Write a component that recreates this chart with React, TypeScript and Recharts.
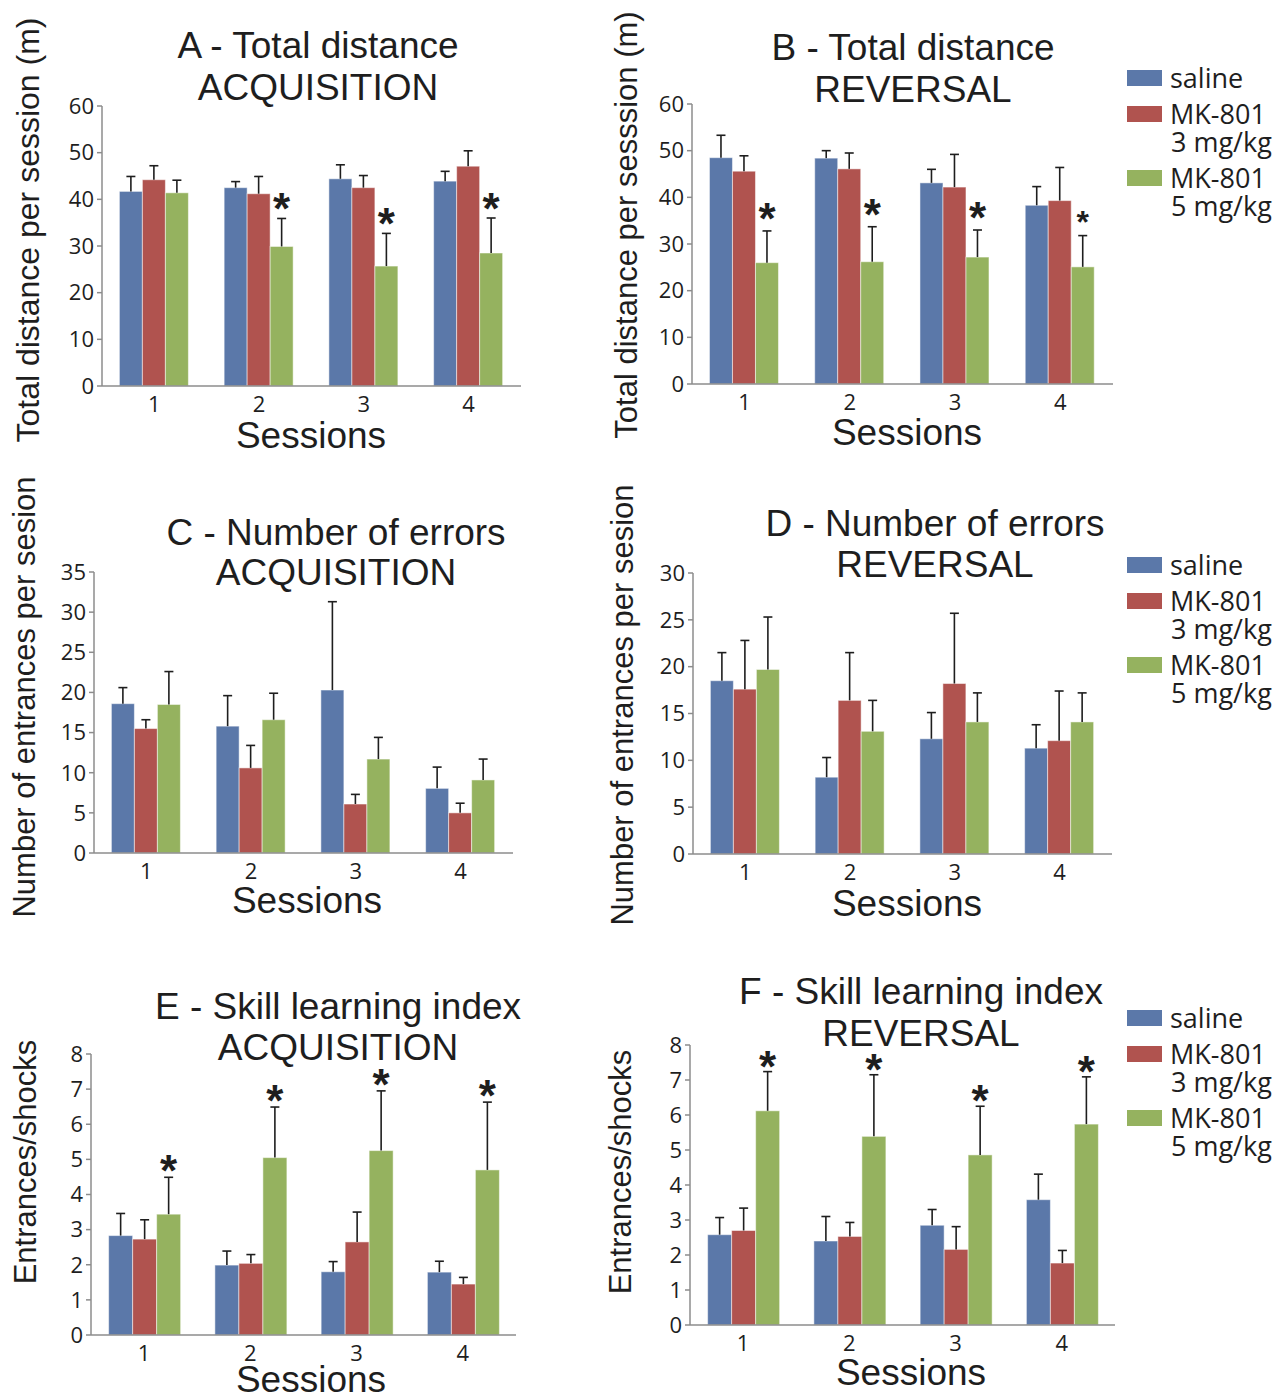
import React from "react";
import { Bar, BarChart, Legend, XAxis, YAxis } from "recharts";

// Sessions on the x axis
const sessions = ["1", "2", "3", "4"];

// legend order of the three groups
const groupNames = ["saline", "MK-801 3 mg/kg", "MK-801 5 mg/kg"];

// A - Total distance, acquisition (mean and top of error bar)
const aSaline = [41.7, 42.5, 44.4, 43.9];
const aSalineErr = [44.9, 43.8, 47.4, 46.0];
const aMk3 = [44.2, 41.2, 42.5, 47.1];
const aMk3Err = [47.2, 44.9, 45.1, 50.4];
const aMk5 = [41.4, 29.9, 25.7, 28.5];
const aMk5Err = [44.1, 35.9, 32.7, 36.0];
const aStars = [false, true, true, true];

// B - Total distance, reversal
const bSaline = [48.5, 48.4, 43.1, 38.3];
const bSalineErr = [53.3, 50.0, 46.0, 42.3];
const bMk3 = [45.6, 46.1, 42.2, 39.3];
const bMk3Err = [48.9, 49.5, 49.2, 46.4];
const bMk5 = [26.0, 26.2, 27.2, 25.1];
const bMk5Err = [32.8, 33.7, 33.0, 31.8];
const bStars = [true, true, true, true];

// C - Number of errors, acquisition
const cSaline = [18.6, 15.8, 20.3, 8.05];
const cSalineErr = [20.6, 19.6, 31.3, 10.7];
const cMk3 = [15.5, 10.6, 6.1, 5.0];
const cMk3Err = [16.6, 13.4, 7.3, 6.2];
const cMk5 = [18.5, 16.6, 11.7, 9.1];
const cMk5Err = [22.6, 19.9, 14.4, 11.7];
const cStars = [false, false, false, false];

// D - Number of errors, reversal
const dSaline = [18.5, 8.2, 12.3, 11.3];
const dSalineErr = [21.5, 10.3, 15.1, 13.8];
const dMk3 = [17.6, 16.4, 18.2, 12.1];
const dMk3Err = [22.8, 21.5, 25.7, 17.4];
const dMk5 = [19.7, 13.1, 14.1, 14.1];
const dMk5Err = [25.3, 16.4, 17.2, 17.2];
const dStars = [false, false, false, false];

// E - Skill learning index, acquisition
const eSaline = [2.83, 1.99, 1.8, 1.79];
const eSalineErr = [3.46, 2.39, 2.09, 2.1];
const eMk3 = [2.73, 2.04, 2.65, 1.45];
const eMk3Err = [3.28, 2.29, 3.5, 1.64];
const eMk5 = [3.44, 5.05, 5.25, 4.7];
const eMk5Err = [4.49, 6.49, 6.95, 6.63];
const eStars = [true, true, true, true];

// F - Skill learning index, reversal
const fSaline = [2.58, 2.4, 2.85, 3.58];
const fSalineErr = [3.07, 3.1, 3.3, 4.31];
const fMk3 = [2.7, 2.53, 2.16, 1.77];
const fMk3Err = [3.34, 2.93, 2.81, 2.13];
const fMk5 = [6.12, 5.39, 4.86, 5.74];
const fMk5Err = [7.24, 7.15, 6.25, 7.09];
const fStars = [true, true, true, true];

const distanceTicks = [0, 10, 20, 30, 40, 50, 60];
const errorsTicksC = [0, 5, 10, 15, 20, 25, 30, 35];
const errorsTicksD = [0, 5, 10, 15, 20, 25, 30];
const skillTicks = [0, 1, 2, 3, 4, 5, 6, 7, 8];

const BLUE = "#5b78a9";
const RED = "#b0534f";
const GREEN = "#95b25f";
const AXIS = "#8c8c8c";
const INK = "#1e1e1e";
const ARIAL = "'Liberation Sans', Arial, sans-serif";
const SANS = "'Open Sans', 'Noto Sans', sans-serif";

const buildRows = (
  sal: number[], salE: number[],
  mk3: number[], mk3E: number[],
  mk5: number[], mk5E: number[],
  stars: boolean[]
) =>
  sessions.map((session, i) => ({
    session,
    saline: sal[i],
    salineErr: salE[i],
    mk3: mk3[i],
    mk3Err: mk3E[i],
    mk5: mk5[i],
    mk5Err: mk5E[i],
    star: stars[i],
  }));

// bar with an upward error bar and optional significance star
const makeShape =
  (key: string, errKey: string, withStar: boolean, starLift: number, smallStar: number) =>
  (props: any) => {
    const { x, y, width, height, fill, payload, index } = props;
    const mean = payload[key];
    const top = payload[errKey];
    const cx = x + width / 2;
    const ey = mean > 0 && height > 0 ? y - ((top - mean) * height) / mean : y;
    const starSize = index === smallStar ? 32 : 44;
    return (
      <g>
        <rect x={x} y={y} width={width} height={height} fill={fill} stroke="#ffffff" strokeOpacity={0.5} strokeWidth={1} />
        <line x1={cx} y1={y} x2={cx} y2={ey} stroke={INK} strokeWidth={1.6} />
        <line x1={cx - 4.5} y1={ey} x2={cx + 4.5} y2={ey} stroke={INK} strokeWidth={1.6} />
        {withStar && payload.star ? (
          <text x={cx} y={ey - starLift + starSize * 0.43} textAnchor="middle" fontFamily={ARIAL} fontWeight="bold" fontSize={starSize} fill={INK}>
            *
          </text>
        ) : null}
      </g>
    );
  };

function SideTitle({ px, py, text, size }: any) {
  return (
    <text x={px} y={py} transform={`rotate(-90 ${px} ${py})`} textAnchor="middle" dominantBaseline="central" fontFamily={ARIAL} fontSize={size} fill={INK}>
      {text}
    </text>
  );
}

function BottomTitle({ px, py, text }: any) {
  return (
    <text x={px} y={py} textAnchor="middle" fontFamily={ARIAL} fontSize={37} fill={INK}>
      {text}
    </text>
  );
}

function LegendBox({ payload }: any) {
  const entries = [...(payload || [])].sort(
    (a: any, b: any) => groupNames.indexOf(a.value) - groupNames.indexOf(b.value)
  );
  return (
    <div style={{ fontFamily: SANS, fontSize: 27, color: INK, lineHeight: "28px" }}>
      {entries.map((entry: any) => {
        const parts = String(entry.value).split(" ");
        const first = parts[0];
        const rest = parts.slice(1).join(" ");
        return (
          <div key={entry.value} style={{ marginBottom: 8, whiteSpace: "nowrap" }}>
            <div style={{ display: "flex", alignItems: "center" }}>
              <span style={{ display: "inline-block", width: 35, height: 16, background: entry.color, marginRight: 8 }} />
              <span>{first}</span>
            </div>
            {rest ? <div style={{ paddingLeft: 44 }}>{rest}</div> : null}
          </div>
        );
      })}
    </div>
  );
}

type PanelSpec = {
  left: number;
  top: number;
  width: number;
  height: number;
  margin: { top: number; right: number; bottom: number; left: number };
  xAxisHeight: number;
  data: any[];
  yMax: number;
  yTicks: number[];
  yLabel: string;
  yLabelX: number;
  yLabelY: number;
  yLabelSize: number;
  sessionsX: number;
  sessionsY: number;
  title: [string, string];
  titleX: number;
  titleTop: number;
  titleLine: number;
  legendTop?: number;
  starLift: number;
  smallStar: number;
};

const panels: PanelSpec[] = [
  {
    left: 0, top: 0, width: 600, height: 460,
    margin: { top: 106, right: 79, bottom: 4, left: 57 }, xAxisHeight: 70,
    data: buildRows(aSaline, aSalineErr, aMk3, aMk3Err, aMk5, aMk5Err, aStars),
    yMax: 60, yTicks: distanceTicks,
    yLabel: "Total distance per session (m)", yLabelX: 28, yLabelY: 230, yLabelSize: 32,
    sessionsX: 311, sessionsY: 448,
    title: ["A - Total distance", "ACQUISITION"], titleX: 318, titleTop: 25, titleLine: 42,
    starLift: 13, smallStar: -1,
  },
  {
    left: 600, top: 0, width: 681, height: 460,
    margin: { top: 104, right: 168, bottom: 6, left: 47 }, xAxisHeight: 70,
    data: buildRows(bSaline, bSalineErr, bMk3, bMk3Err, bMk5, bMk5Err, bStars),
    yMax: 60, yTicks: distanceTicks,
    yLabel: "Total distance per sesssion (m)", yLabelX: 26, yLabelY: 225, yLabelSize: 31,
    sessionsX: 307, sessionsY: 445,
    title: ["B - Total distance", "REVERSAL"], titleX: 313, titleTop: 27, titleLine: 42,
    legendTop: 64, starLift: 16, smallStar: 3,
  },
  {
    left: 0, top: 460, width: 600, height: 480,
    margin: { top: 112, right: 87, bottom: 17, left: 49 }, xAxisHeight: 70,
    data: buildRows(cSaline, cSalineErr, cMk3, cMk3Err, cMk5, cMk5Err, cStars),
    yMax: 35, yTicks: errorsTicksC,
    yLabel: "Number of entrances per sesion", yLabelX: 24, yLabelY: 237, yLabelSize: 31,
    sessionsX: 307, sessionsY: 453,
    title: ["C - Number of errors", "ACQUISITION"], titleX: 336, titleTop: 53, titleLine: 40,
    starLift: 12, smallStar: -1,
  },
  {
    left: 600, top: 460, width: 681, height: 480,
    margin: { top: 113, right: 169, bottom: 16, left: 48 }, xAxisHeight: 70,
    data: buildRows(dSaline, dSalineErr, dMk3, dMk3Err, dMk5, dMk5Err, dStars),
    yMax: 30, yTicks: errorsTicksD,
    yLabel: "Number of entrances per sesion", yLabelX: 22, yLabelY: 245, yLabelSize: 31,
    sessionsX: 307, sessionsY: 456,
    title: ["D - Number of errors", "REVERSAL"], titleX: 335, titleTop: 43, titleLine: 41,
    legendTop: 91, starLift: 12, smallStar: -1,
  },
  {
    left: 0, top: 940, width: 600, height: 453,
    margin: { top: 114, right: 84, bottom: 0, left: 46 }, xAxisHeight: 58,
    data: buildRows(eSaline, eSalineErr, eMk3, eMk3Err, eMk5, eMk5Err, eStars),
    yMax: 8, yTicks: skillTicks,
    yLabel: "Entrances/shocks", yLabelX: 25, yLabelY: 222, yLabelSize: 31,
    sessionsX: 311, sessionsY: 452,
    title: ["E - Skill learning index", "ACQUISITION"], titleX: 338, titleTop: 46, titleLine: 41,
    starLift: 10, smallStar: -1,
  },
  {
    left: 600, top: 940, width: 681, height: 453,
    margin: { top: 105, right: 166, bottom: 10, left: 45 }, xAxisHeight: 58,
    data: buildRows(fSaline, fSalineErr, fMk3, fMk3Err, fMk5, fMk5Err, fStars),
    yMax: 8, yTicks: skillTicks,
    yLabel: "Entrances/shocks", yLabelX: 20, yLabelY: 232, yLabelSize: 31,
    sessionsX: 311, sessionsY: 445,
    title: ["F - Skill learning index", "REVERSAL"], titleX: 321, titleTop: 31, titleLine: 42,
    legendTop: 64, starLift: 9, smallStar: -1,
  },
];

function Panel({ p }: { p: PanelSpec }) {
  const tickStyle = { fontFamily: SANS, fontSize: 22, fill: INK };
  return (
    <div style={{ position: "absolute", left: p.left, top: p.top, width: p.width, height: p.height }}>
      <BarChart width={p.width} height={p.height} data={p.data} margin={p.margin} barCategoryGap="16.6%" barGap={0}>
        <XAxis
          dataKey="session"
          height={p.xAxisHeight}
          interval={0}
          axisLine={{ stroke: AXIS, strokeWidth: 1.5 }}
          tickLine={false}
          tickSize={6}
          tickMargin={4}
          tick={tickStyle}
          label={<BottomTitle px={p.sessionsX} py={p.sessionsY} text="Sessions" />}
        />
        <YAxis
          width={45}
          domain={[0, p.yMax]}
          ticks={p.yTicks}
          interval={0}
          axisLine={{ stroke: AXIS, strokeWidth: 1.5 }}
          tickLine={{ stroke: AXIS, strokeWidth: 1.5 }}
          tickSize={5}
          tickMargin={3}
          tick={tickStyle}
          label={<SideTitle px={p.yLabelX} py={p.yLabelY} text={p.yLabel} size={p.yLabelSize} />}
        />
        {p.legendTop !== undefined ? (
          <Legend
            layout="vertical"
            align="center"
            verticalAlign="middle"
            content={<LegendBox />}
            wrapperStyle={{ left: 527, top: p.legendTop, width: 160 }}
          />
        ) : null}
        <Bar dataKey="saline" name={groupNames[0]} fill={BLUE} isAnimationActive={false}
          shape={makeShape("saline", "salineErr", false, p.starLift, p.smallStar)} />
        <Bar dataKey="mk3" name={groupNames[1]} fill={RED} isAnimationActive={false}
          shape={makeShape("mk3", "mk3Err", false, p.starLift, p.smallStar)} />
        <Bar dataKey="mk5" name={groupNames[2]} fill={GREEN} isAnimationActive={false}
          shape={makeShape("mk5", "mk5Err", true, p.starLift, p.smallStar)} />
      </BarChart>
      <div
        style={{
          position: "absolute",
          left: p.titleX - 300,
          top: p.titleTop,
          width: 600,
          textAlign: "center",
          fontFamily: ARIAL,
          fontSize: 37,
          lineHeight: `${p.titleLine}px`,
          color: INK,
          pointerEvents: "none",
        }}
      >
        <div>{p.title[0]}</div>
        <div>{p.title[1]}</div>
      </div>
    </div>
  );
}

export default function App() {
  return (
    <div style={{ position: "absolute", left: 0, top: 0, width: 1281, height: 1393, background: "#ffffff", overflow: "hidden" }}>
      {panels.map((p) => (
        <Panel key={p.title[0]} p={p} />
      ))}
    </div>
  );
}
